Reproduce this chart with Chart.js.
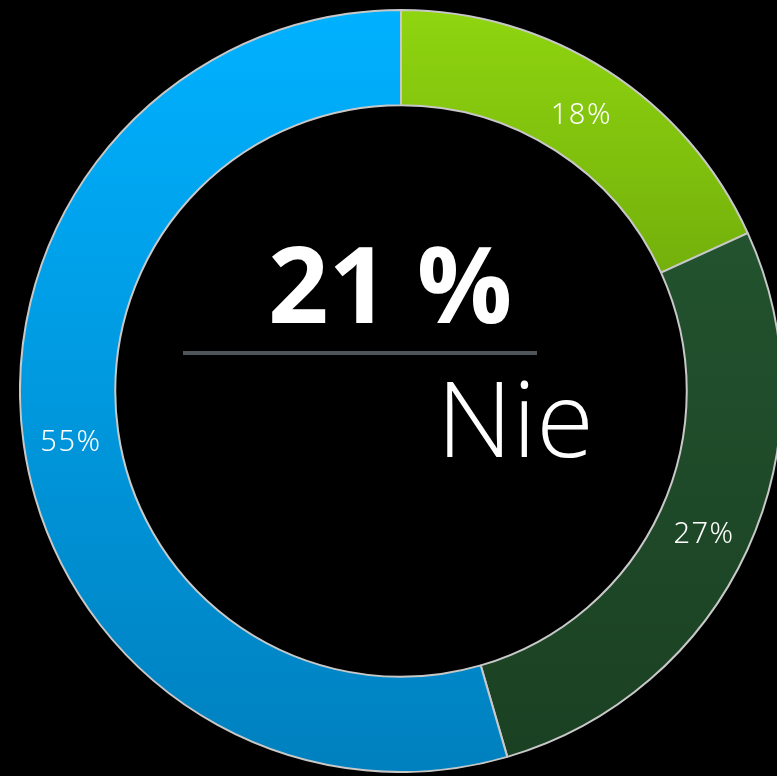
<!DOCTYPE html>
<html>
<head>
<meta charset="utf-8">
<script src="https://cdn.jsdelivr.net/npm/chart.js@4"></script>
<style>
  html, body { margin: 0; padding: 0; background: #000; overflow: hidden; }
  body { width: 777px; height: 776px; position: relative; }
  #wrap { position: absolute; left: 19px; top: 9px; width: 764px; height: 764px; }
</style>
</head>
<body>
<div id="wrap"><canvas id="donut"></canvas></div>
<script>
const labels = ['Tak', 'Nie wiem', 'Nie'];
const values = [18.2, 27.3, 54.5];
const topColors = ['#8fd50f', '#265a34', '#00b1ff'];
const bottomColors = ['#3f6a05', '#1a4022', '#0080be'];
const centerValue = '21 %';
const centerLabel = 'Nie';

function sliceGradient(context) {
  const chart = context.chart;
  const area = chart.chartArea;
  if (!area) return topColors[context.dataIndex];
  const g = chart.ctx.createLinearGradient(0, area.top, 0, area.bottom);
  g.addColorStop(0, topColors[context.dataIndex]);
  g.addColorStop(1, bottomColors[context.dataIndex]);
  return g;
}

const sliceLabels = {
  id: 'sliceLabels',
  afterDatasetsDraw(chart) {
    const ctx = chart.ctx;
    const meta = chart.getDatasetMeta(0);
    ctx.save();
    ctx.fillStyle = '#ffffff';
    ctx.font = '300 29px "Noto Sans"';
    ctx.letterSpacing = '1.5px';
    ctx.textAlign = 'center';
    ctx.textBaseline = 'alphabetic';
    meta.data.forEach((arc, i) => {
      const p = arc.tooltipPosition();
      ctx.fillText(Math.round(values[i]) + '%', p.x, p.y + 13);
    });
    ctx.restore();
  }
};

const centerText = {
  id: 'centerText',
  afterDraw(chart) {
    const ctx = chart.ctx;
    const cx = chart.getDatasetMeta(0).data[0].x;
    const cy = chart.getDatasetMeta(0).data[0].y;
    ctx.save();
    ctx.fillStyle = '#ffffff';
    ctx.textAlign = 'center';
    ctx.textBaseline = 'alphabetic';
    ctx.font = 'bold 106px "Open Sans"';
    ctx.fillText(centerValue, cx - 11, cy - 68);
    ctx.strokeStyle = '#50555a';
    ctx.lineWidth = 4;
    ctx.beginPath();
    ctx.moveTo(cx - 218, cy - 38);
    ctx.lineTo(cx + 136, cy - 38);
    ctx.stroke();
    ctx.textAlign = 'right';
    ctx.font = '300 105px "Open Sans"';
    ctx.fillText(centerLabel, cx + 193, cy + 66);
    ctx.restore();
  }
};

new Chart(document.getElementById('donut'), {
  type: 'doughnut',
  data: {
    labels: labels,
    datasets: [{
      data: values,
      backgroundColor: sliceGradient,
      borderColor: '#c8c8c8',
      borderWidth: 2
    }]
  },
  options: {
    responsive: true,
    maintainAspectRatio: false,
    animation: false,
    cutout: '75%',
    layout: { padding: 0 },
    plugins: {
      legend: { display: false },
      tooltip: { enabled: false }
    }
  },
  plugins: [sliceLabels, centerText]
});
</script>
</body>
</html>
